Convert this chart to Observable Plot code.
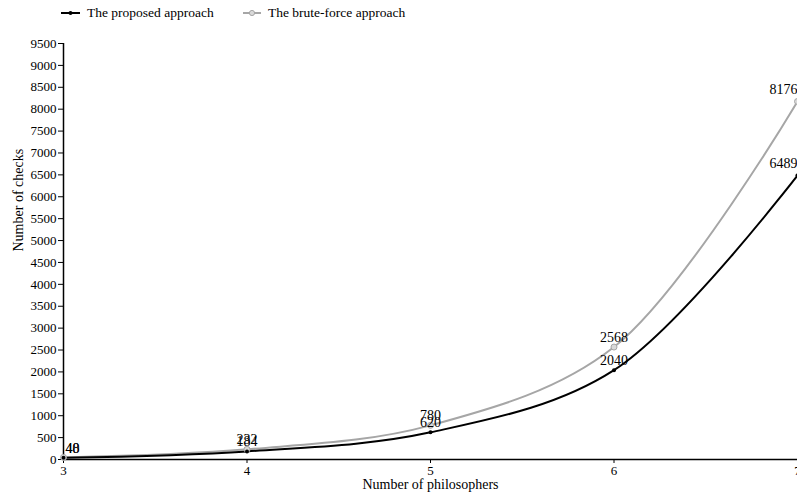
<!DOCTYPE html>
<html><head><meta charset="utf-8">
<script src="https://cdn.jsdelivr.net/npm/d3@7"></script>
<script src="https://cdn.jsdelivr.net/npm/@observablehq/plot@0.6"></script>
<style>
body{margin:0;background:#fff;font-family:"Liberation Serif",serif;}
#legend{height:30px;position:relative;font-size:13.5px;color:#000;}
#legend .item{position:absolute;top:5px;display:flex;align-items:center;white-space:nowrap;}
#legend svg{margin-right:7px;}
#chart svg{display:block;}
</style></head>
<body>
<div id="legend"></div>
<div id="chart"></div>
<script>
const philosophers = [3, 4, 5, 6, 7];
const proposed = [40, 184, 620, 2040, 6489];
const bruteForce = [48, 232, 780, 2568, 8176];
const yTicks = d3.range(0, 9501, 500);
const seriesNames = ["The proposed approach", "The brute-force approach"];
const seriesColors = ["#000000", "#a6a6a6"];

const rows = [];
philosophers.forEach((p, i) => {
  rows.push({series: seriesNames[0], x: p, y: proposed[i], idx: i});
  rows.push({series: seriesNames[1], x: p, y: bruteForce[i], idx: i});
});
const propRows = rows.filter(d => d.series === seriesNames[0]);
const bruteRows = rows.filter(d => d.series === seriesNames[1]);
const last = philosophers.length - 1;

// legend
const legend = document.getElementById("legend");
const legendX = [61, 243];
seriesNames.forEach((name, i) => {
  const it = document.createElement("div");
  it.className = "item";
  it.style.left = legendX[i] + "px";
  const marker = i === 0
    ? `<circle cx="9.5" cy="6" r="2" fill="#000"/>`
    : `<circle cx="9" cy="6" r="2.6" fill="#d9d9d9" stroke="#a6a6a6" stroke-width="1"/>`;
  const w = i === 0 ? 19 : 18;
  it.innerHTML = `<svg width="${w}" height="12"><line x1="0" x2="${w}" y1="6" y2="6" stroke="${seriesColors[i]}" stroke-width="2"/>${marker}</svg><span>${name}</span>`;
  legend.appendChild(it);
});

const textFor = (data) => [
  Plot.text(data.filter(d => d.idx === 0), {x: "x", y: "y", text: d => String(d.y), dy: -9, textAnchor: "start", dx: 2, fill: "#000", fontSize: 14}),
  Plot.text(data.filter(d => d.idx > 0 && d.idx < last), {x: "x", y: "y", text: d => String(d.y), dy: -10, fill: "#000", fontSize: 14}),
  Plot.text(data.filter(d => d.idx === last), {x: "x", y: "y", text: d => String(d.y), dy: -12, textAnchor: "end", fill: "#000", fontSize: 14})
];

const chart = Plot.plot({
  width: 797,
  height: 470,
  marginTop: 13,
  marginBottom: 41,
  marginLeft: 63,
  marginRight: 0,
  style: {fontFamily: "Liberation Serif, serif", fontSize: "13px", color: "#000", background: "#fff"},
  x: {domain: [3, 7], label: null},
  y: {domain: [0, 9500], label: null},
  marks: [
    Plot.axisX(philosophers, {tickSize: 4, tickPadding: 2, tickFormat: d => String(d), label: null}),
    Plot.axisY(yTicks, {tickSize: 5, tickPadding: 2, tickFormat: d => String(d), label: null}),
    Plot.ruleX([3], {stroke: "#000", strokeWidth: 1.5}),
    Plot.ruleY([0], {stroke: "#000", strokeWidth: 1.5}),
    Plot.line(bruteRows, {x: "x", y: "y", stroke: seriesColors[1], strokeWidth: 2, curve: "catmull-rom"}),
    Plot.line(propRows, {x: "x", y: "y", stroke: seriesColors[0], strokeWidth: 2, curve: "catmull-rom"}),
    Plot.dot(bruteRows, {x: "x", y: "y", r: 3, fill: "#d9d9d9", stroke: seriesColors[1], strokeWidth: 1}),
    Plot.dot(propRows, {x: "x", y: "y", r: 2, fill: "#000", stroke: "none"}),
    ...textFor(bruteRows),
    ...textFor(propRows),
    Plot.text(["Number of checks"], {frameAnchor: "left", rotate: -90, dx: -45, fill: "#000", fontSize: 14}),
    Plot.text(["Number of philosophers"], {frameAnchor: "bottom", dy: 29, fill: "#000", fontSize: 14})
  ]
});
document.getElementById("chart").appendChild(chart);
</script>
</body></html>
